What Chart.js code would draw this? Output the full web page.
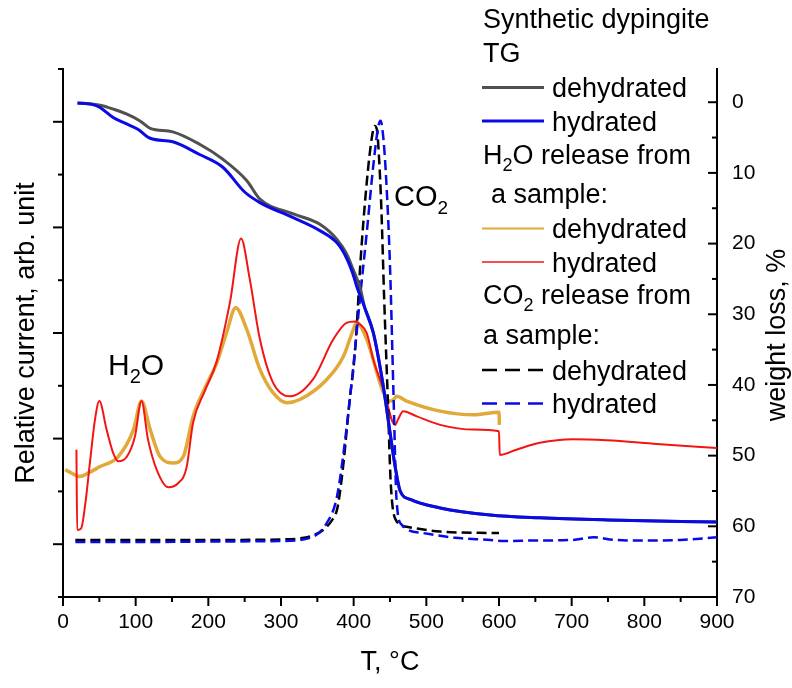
<!DOCTYPE html>
<html><head><meta charset="utf-8">
<script src="https://cdn.jsdelivr.net/npm/chart.js@4.4.0/dist/chart.umd.min.js"></script>
<style>html,body{margin:0;padding:0;background:#fff;}canvas{display:block;}</style>
</head><body>
<canvas id="c" width="792" height="688"></canvas>
<script>
const FONT = '"Liberation Sans", Arial, Helvetica, sans-serif';

// ---- TG (weight loss, %) right axis ----
const tgDehydT = [20, 51, 70, 88, 106, 120, 151, 188, 220, 253, 271, 317, 354, 377, 390, 399, 409, 415, 427, 440, 450, 457, 464, 478, 519, 588, 656, 750, 900];
const tgDehydW = [0.1, 0.42, 1.0, 1.7, 2.65, 3.7, 4.2, 5.95, 8.07, 11.1, 13.7, 15.8, 17.3, 19.4, 21.4, 23.6, 26.3, 29.0, 32.6, 39.7, 46.7, 51.5, 55.0, 56.2, 57.4, 58.4, 58.8, 59.1, 59.4];
const tgHydT = [20, 40, 51, 69, 86, 103, 120, 151, 188, 220, 250, 271, 316, 354, 377, 390, 399, 404, 415, 427, 440, 450, 457, 464, 478, 519, 588, 656, 750, 900];
const tgHydW = [0.1, 0.3, 0.75, 2.17, 3.0, 3.82, 5.1, 5.6, 7.4, 9.2, 12.7, 14.2, 16.3, 18.2, 19.9, 22.0, 24.3, 26.0, 29.0, 32.6, 39.7, 46.7, 51.5, 55.0, 56.2, 57.4, 58.4, 58.8, 59.1, 59.4];

// ---- H2O release (relative current) left axis ----
const h2oDehydT = [3, 10, 23, 35, 51, 76, 97, 108, 120, 133.5, 152, 165.6, 179, 195, 211.5, 225, 237.6, 252.8, 271, 289, 308, 326, 363, 386, 399.6, 404, 418, 441, 450, 455, 459, 473, 519, 565, 600, 600.5];
const h2oDehydV = [2.41, 2.36, 2.28, 2.35, 2.47, 2.66, 3.17, 3.71, 3.17, 2.66, 2.54, 2.66, 3.42, 3.95, 4.43, 5.0, 5.48, 5.07, 4.31, 3.87, 3.68, 3.74, 4.12, 4.56, 5.07, 5.2, 4.88, 3.87, 3.71, 3.74, 3.80, 3.71, 3.52, 3.45, 3.50, 3.26];
const h2oHydT = [18.5, 19.5, 25, 31, 37, 44, 50, 60, 69, 76, 88, 99, 108, 117, 129, 145, 158, 170, 179, 195, 211, 230, 245, 257, 271, 289, 312, 344, 372, 390, 402, 409, 418, 427, 441, 457, 461, 468, 487, 519, 565, 600, 601, 624, 656, 702, 748, 817, 900];
const h2oHydV = [2.79, 1.27, 1.3, 1.8, 2.54, 3.36, 3.71, 3.17, 2.73, 2.57, 2.66, 3.04, 3.71, 2.98, 2.41, 2.08, 2.15, 2.45, 3.3, 3.9, 4.44, 5.6, 6.79, 6.02, 4.88, 4.06, 3.8, 4.12, 4.88, 5.19, 5.22, 5.16, 5.0, 4.5, 3.93, 3.26, 3.36, 3.52, 3.42, 3.26, 3.17, 3.14, 2.69, 2.79, 2.92, 2.99, 2.97, 2.90, 2.82];

// ---- CO2 release (relative current) left axis ----
const co2DehydT = [17, 100, 200, 300, 326, 345, 358, 370, 377, 381, 386, 395, 400, 404, 409, 418, 425, 429, 432, 435, 438, 442, 447, 451, 458, 473, 519, 600];
const co2DehydV = [1.08, 1.08, 1.08, 1.09, 1.11, 1.17, 1.27, 1.45, 1.65, 1.97, 2.54, 3.80, 4.37, 5.07, 6.27, 7.85, 8.7, 8.92, 8.85, 8.3, 7.4, 5.64, 3.74, 2.16, 1.46, 1.33, 1.24, 1.21];
const co2HydT = [17, 100, 200, 300, 340, 363, 377, 390, 400, 409, 418, 427, 434, 437, 441, 445, 450, 455, 459, 466, 496, 540, 588, 606, 650, 700, 730, 760, 800, 850, 900];
const co2HydV = [1.04, 1.04, 1.05, 1.06, 1.12, 1.40, 1.90, 3.17, 4.43, 5.70, 6.90, 8.17, 8.92, 9.02, 8.67, 7.85, 6.27, 3.74, 1.84, 1.37, 1.21, 1.12, 1.08, 1.06, 1.07, 1.08, 1.13, 1.08, 1.07, 1.08, 1.13];

// ---- tick labels ----
const xTickVals = [0, 100, 200, 300, 400, 500, 600, 700, 800, 900];
const rightTickVals = [0, 10, 20, 30, 40, 50, 60, 70];

const COL = { gray: '#505050', blue: '#0a0ae6', yellow: '#e1a93a', red: '#f41414', black: '#000000' };

function pts(xs, ys) { return xs.map((x, i) => ({ x: x, y: ys[i] })); }

function drawRich(ctx, parts, x, y, size) {
  let cx = x;
  for (const p of parts) {
    if (p.sub) {
      ctx.font = Math.round(size * 0.66) + 'px ' + FONT;
      ctx.fillText(p.t, cx, y + size * 0.27);
    } else {
      ctx.font = size + 'px ' + FONT;
      ctx.fillText(p.t, cx, y);
    }
    cx += ctx.measureText(p.t).width;
  }
}

const decor = {
  id: 'decor',
  afterDraw(chart) {
    const { ctx, chartArea: a, scales } = chart;
    const x = scales.x, yL = scales.yL, yR = scales.yR;
    ctx.save();
    ctx.strokeStyle = '#000';
    ctx.lineWidth = 2;
    ctx.setLineDash([]);
    const seg = (x1, y1, x2, y2) => { ctx.beginPath(); ctx.moveTo(x1, y1); ctx.lineTo(x2, y2); ctx.stroke(); };
    // x ticks (outward)
    for (let v = 0; v <= 900; v += 50) {
      const px = x.getPixelForValue(v);
      seg(px, a.bottom, px, a.bottom + (v % 100 === 0 ? 9 : 5));
    }
    // left ticks (outward)
    for (let v = 0; v <= 10; v++) {
      const py = yL.getPixelForValue(v);
      const len = (v % 2 === 1) ? 10 : 5;
      seg(a.left, py, a.left - len, py);
    }
    // right ticks (inward)
    for (let v = 0; v <= 70; v += 5) {
      const py = yR.getPixelForValue(v);
      seg(a.right, py, a.right - (v % 10 === 0 ? 9 : 5), py);
    }
    // right axis title (reads bottom to top)
    ctx.fillStyle = '#000';
    ctx.save();
    ctx.translate(778, 335);
    ctx.rotate(-Math.PI / 2);
    ctx.font = '27px ' + FONT;
    ctx.textAlign = 'center';
    ctx.textBaseline = 'middle';
    ctx.fillText('weight loss, %', 0, 0);
    ctx.restore();

    ctx.textAlign = 'left';
    ctx.textBaseline = 'alphabetic';
    // annotations
    drawRich(ctx, [{ t: 'H' }, { t: '2', sub: true }, { t: 'O' }], 108, 375, 30);
    drawRich(ctx, [{ t: 'CO' }, { t: '2', sub: true }], 394, 206, 29);

    // legend
    const LS = 27;
    const lx1 = 482, lx2 = 544, tx = 552;
    drawRich(ctx, [{ t: 'Synthetic dypingite' }], 483, 28, LS);
    drawRich(ctx, [{ t: 'TG' }], 483, 62, LS);
    const entry = (ly, color, width, dash, label) => {
      ctx.strokeStyle = color; ctx.lineWidth = width; ctx.setLineDash(dash);
      seg(lx1, ly, lx2, ly);
      ctx.setLineDash([]);
      ctx.fillStyle = '#000';
      drawRich(ctx, [{ t: label }], tx, ly + 9.5, LS);
    };
    entry(87.5, COL.gray, 3, [], 'dehydrated');
    entry(121, COL.blue, 3, [], 'hydrated');
    drawRich(ctx, [{ t: 'H' }, { t: '2', sub: true }, { t: 'O release from' }], 483, 163.5, LS);
    drawRich(ctx, [{ t: 'a sample:' }], 491, 203, LS);
    entry(228.5, COL.yellow, 2, [], 'dehydrated');
    entry(262, COL.red, 1.5, [], 'hydrated');
    drawRich(ctx, [{ t: 'CO' }, { t: '2', sub: true }, { t: ' release from' }], 483, 304, LS);
    drawRich(ctx, [{ t: 'a sample:' }], 483, 343.5, LS);
    entry(370, COL.black, 2.5, [15, 8], 'dehydrated');
    entry(403.5, COL.blue, 2.5, [15, 8], 'hydrated');
    ctx.restore();
  }
};

const common = { pointRadius: 0, fill: false, cubicInterpolationMode: 'monotone' };

new Chart(document.getElementById('c'), {
  type: 'line',
  data: {
    datasets: [
      Object.assign({ label: 'TG hydrated', data: pts(tgHydT, tgHydW), yAxisID: 'yR', borderColor: COL.blue, borderWidth: 3 }, common),
      Object.assign({ label: 'TG dehydrated', data: pts(tgDehydT, tgDehydW), yAxisID: 'yR', borderColor: COL.gray, borderWidth: 3 }, common),
      Object.assign({ label: 'CO2 hydrated', data: pts(co2HydT, co2HydV), yAxisID: 'yL', borderColor: COL.blue, borderWidth: 2.5, borderDash: [10, 5] }, common),
      Object.assign({ label: 'CO2 dehydrated', data: pts(co2DehydT, co2DehydV), yAxisID: 'yL', borderColor: COL.black, borderWidth: 2.5, borderDash: [10, 5] }, common),
      Object.assign({ label: 'H2O hydrated', data: pts(h2oHydT, h2oHydV), yAxisID: 'yL', borderColor: COL.red, borderWidth: 2 }, common),
      Object.assign({ label: 'H2O dehydrated', data: pts(h2oDehydT, h2oDehydV), yAxisID: 'yL', borderColor: COL.yellow, borderWidth: 3.5 }, common)
    ]
  },
  options: {
    responsive: false,
    animation: false,
    devicePixelRatio: 1,
    layout: { padding: { top: 69, left: 0, right: 0, bottom: 0 } },
    plugins: { legend: { display: false }, tooltip: { enabled: false } },
    scales: {
      x: {
        type: 'linear', min: 0, max: 900,
        afterBuildTicks: s => { s.ticks = xTickVals.map(v => ({ value: v })); },
        afterFit: s => { s.height = 91; },
        grid: { display: false, drawTicks: false },
        border: { display: true, color: '#000', width: 2 },
        ticks: { padding: 13, color: '#000', font: { size: 21, family: FONT }, maxRotation: 0, autoSkip: false },
        title: { display: true, text: 'T, °C', color: '#000', font: { size: 27, family: FONT }, padding: { bottom: 9, top: 0 } }
      },
      yL: {
        type: 'linear', position: 'left', min: 0, max: 10,
        afterFit: s => { s.width = 63; },
        grid: { display: false, drawTicks: false },
        border: { display: true, color: '#000', width: 2 },
        ticks: { display: false },
        title: { display: true, text: 'Relative current, arb. unit', color: '#000', font: { size: 27, family: FONT }, padding: { top: 10, bottom: 0 } }
      },
      yR: {
        type: 'linear', position: 'right', min: -4.7, max: 70, reverse: true,
        afterBuildTicks: s => { s.ticks = rightTickVals.map(v => ({ value: v })); },
        afterFit: s => { s.width = 75; },
        grid: { display: false, drawTicks: false },
        border: { display: true, color: '#000', width: 2 },
        ticks: { padding: 15, color: '#000', font: { size: 21, family: FONT }, autoSkip: false }
      }
    }
  },
  plugins: [decor]
});
</script>
</body></html>
